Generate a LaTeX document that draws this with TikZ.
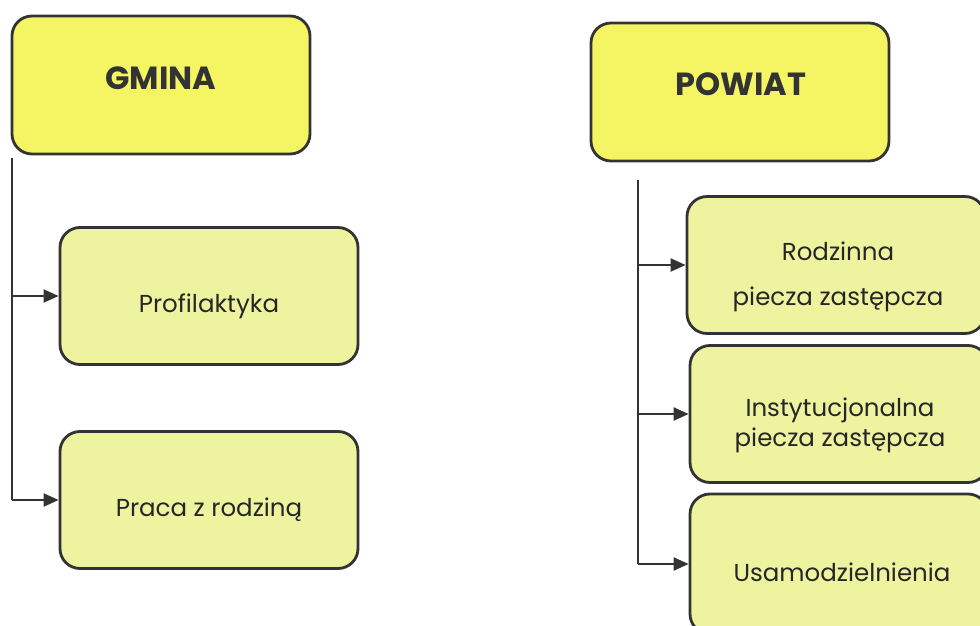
\documentclass[tikz,border=0pt]{standalone}
\usepackage{fontspec}
\setmainfont{Poppins}
\usetikzlibrary{arrows.meta}

\definecolor{headyellow}{HTML}{F5F563}
\definecolor{subyellow}{HTML}{EEF3A0}
\definecolor{edgegray}{HTML}{333333}

\tikzset{
  headbox/.style={draw=edgegray, line width=2.8pt, fill=headyellow, rounded corners=20pt,
    minimum width=298pt, minimum height=138pt},
  subbox/.style={draw=edgegray, line width=2.8pt, fill=subyellow, rounded corners=20pt,
    minimum width=298pt, minimum height=137pt},
  headtext/.style={font=\bfseries\fontsize{32}{36}\selectfont, text=edgegray},
  subtext/.style={font=\fontsize{24.5}{30}\selectfont, align=center, text=black!85},
  trunk/.style={draw=edgegray, line width=2.2pt},
  feed/.style={draw=edgegray, line width=2.2pt, -{Triangle[length=15pt,width=13pt]}}
}

\begin{document}
\begin{tikzpicture}[x=1pt,y=-1pt]
  \clip (0,0) rectangle (980,626);

  % Gmina
  \node[headbox] (gmina) at (161,85) {};
  \node[headtext] (gmina-txt) at (161,78) {GMINA};
  \node[subbox] (profil) at (209,296) {};
  \node[subtext] (profil-txt) at (209,306) {Profilaktyka};
  \node[subbox] (praca) at (209,500) {};
  \node[subtext] (praca-txt) at (209,510) {Praca z rodziną};

  % Powiat
  \node[headbox] (powiat) at (740,92) {};
  \node[headtext] (powiat-txt) at (741,84) {POWIAT};
  \node[subbox] (rodzinna) at (836,265) {};
  \node[subtext] (rodzinna-txt) at (838,277) {Rodzinna\\[15pt]piecza zastępcza};
  \node[subbox] (instyt) at (839,414) {};
  \node[subtext] (instyt-txt) at (840,425) {Instytucjonalna\\piecza zastępcza};
  \node[subbox, minimum height=140pt] (usam) at (839,564) {};
  \node[subtext] (usam-txt) at (842,572) {Usamodzielnienia};

  % Connectors
  \coordinate (gmina-root) at (12,158);
  \coordinate (powiat-root) at (638,180);
  \draw[trunk] (gmina-root) -- (gmina-root |- praca.west);
  \draw[feed] (gmina-root |- profil.west) -- (profil.west);
  \draw[feed] (gmina-root |- praca.west) -- (praca.west);
  \draw[trunk] (powiat-root) -- (powiat-root |- usam.west);
  \draw[feed] (powiat-root |- rodzinna.west) -- (rodzinna.west);
  \draw[feed] (powiat-root |- instyt.west) -- (instyt.west);
  \draw[feed] (powiat-root |- usam.west) -- (usam.west);
\end{tikzpicture}
\end{document}
